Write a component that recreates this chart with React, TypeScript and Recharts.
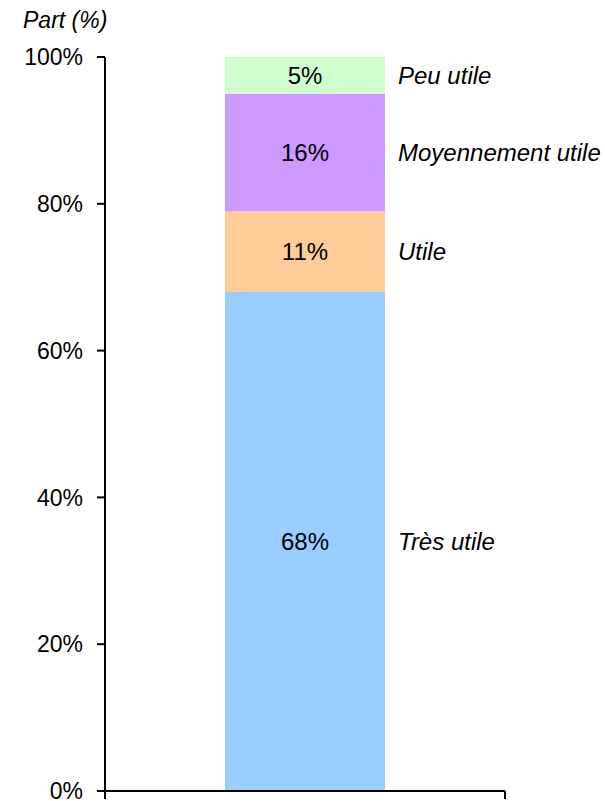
import React from "react";
import {
  Bar,
  BarChart,
  Label,
  LabelList,
  XAxis,
  YAxis,
} from "recharts";

const categories = ["Ensemble"];
const seriesNames = ["Très utile", "Utile", "Moyennement utile", "Peu utile"];
const tresUtile = [68];
const utile = [11];
const moyennementUtile = [16];
const peuUtile = [5];
const yTicks = [0, 20, 40, 60, 80, 100];

const colors = ["#99CCFF", "#FFCC99", "#CC99FF", "#CCFFCC"];
const FONT = "'Liberation Sans', Arial, Helvetica, sans-serif";

// numeric x so that the axis ticks sit on the category edges, as in the source chart
const data = categories.map((name, i) => ({
  name,
  x: (i + 0.5) / categories.length,
  s0: tresUtile[i],
  s1: utile[i],
  s2: moyennementUtile[i],
  s3: peuUtile[i],
}));
const xEdges = [0, ...categories.map((_, i) => (i + 1) / categories.length)];

export default function App() {
  return (
    <div style={{ position: "absolute", left: 0, top: 0, width: 605, height: 801, background: "#fff", fontFamily: FONT }}>
      <BarChart
        width={605}
        height={801}
        data={data}
        margin={{ top: 57, right: 100, bottom: 0, left: 0 }}
        barSize={160}
      >
        <XAxis
          dataKey="x"
          type="number"
          domain={[0, 1]}
          ticks={xEdges}
          interval={0}
          height={10}
          tick={{ fontSize: 1, fill: "none" }}
          tickFormatter={() => ""}
          tickSize={8}
          axisLine={{ stroke: "#000", strokeWidth: 2 }}
          tickLine={{ stroke: "#000", strokeWidth: 2 }}
        />
        <YAxis
          width={105}
          domain={[0, 100]}
          ticks={yTicks}
          interval={0}
          tickFormatter={(v: number) => `${v}%`}
          tickSize={8}
          tickMargin={14}
          axisLine={{ stroke: "#000", strokeWidth: 2 }}
          tickLine={{ stroke: "#000", strokeWidth: 2 }}
          tick={{ fill: "#000", fontSize: 23, fontFamily: FONT }}
        >
          <Label
            content={() => (
              <text x={23} y={28} fontSize={23} fontStyle="italic" fontFamily={FONT} fill="#000">
                Part (%)
              </text>
            )}
          />
        </YAxis>
        {seriesNames.map((sname, i) => (
          <Bar key={sname} dataKey={`s${i}`} stackId="a" fill={colors[i]} isAnimationActive={false}>
            <LabelList
              dataKey={`s${i}`}
              position="center"
              formatter={(v: number) => `${v}%`}
              fill="#000"
              fontSize={24}
              fontFamily={FONT}
            />
            <LabelList
              dataKey={`s${i}`}
              position="right"
              offset={13}
              formatter={() => sname}
              fill="#000"
              fontSize={24}
              fontStyle="italic"
              fontFamily={FONT}
            />
          </Bar>
        ))}
      </BarChart>
    </div>
  );
}
